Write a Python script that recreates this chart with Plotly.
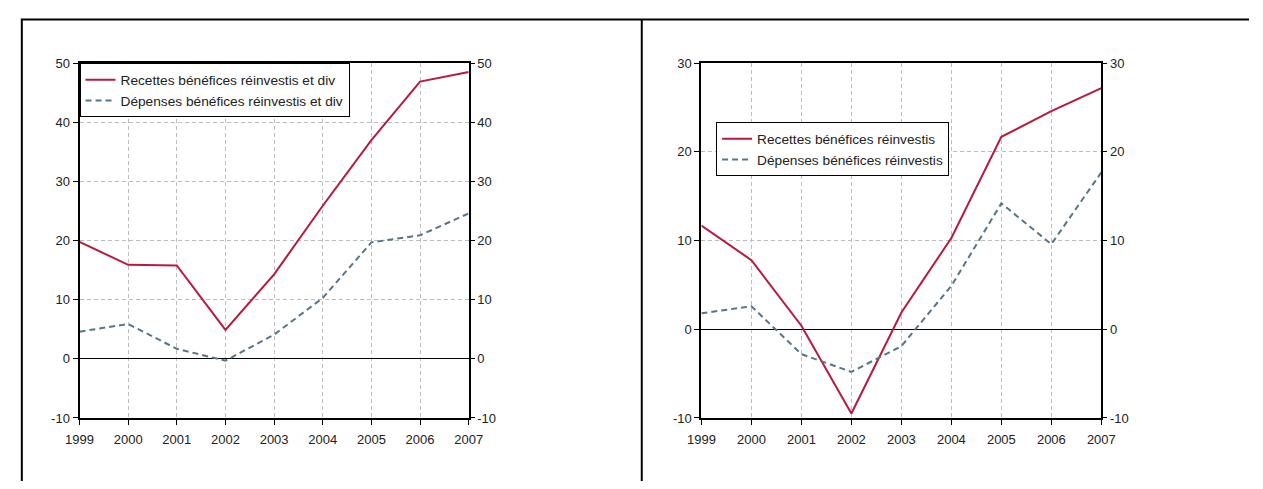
import plotly.graph_objects as go

years = [1999, 2000, 2001, 2002, 2003, 2004, 2005, 2006, 2007]

# Left panel: bénéfices réinvestis et dividendes
recettes_div = [19.8, 15.9, 15.8, 4.9, 14.3, 25.9, 37.0, 46.9, 48.5]
depenses_div = [4.6, 5.9, 1.7, -0.3, 4.1, 10.3, 19.7, 20.9, 24.6]

# Right panel: bénéfices réinvestis
recettes_rei = [11.7, 7.8, 0.4, -9.5, 1.9, 10.3, 21.7, 24.6, 27.2]
depenses_rei = [1.8, 2.6, -2.8, -4.8, -1.9, 4.9, 14.2, 9.6, 17.7]

names_left = ["Recettes bénéfices réinvestis et div", "Dépenses bénéfices réinvestis et div"]
names_right = ["Recettes bénéfices réinvestis", "Dépenses bénéfices réinvestis"]

yticks_left = [-10, 0, 10, 20, 30, 40, 50]
yticks_right = [-10, 0, 10, 20, 30]
yticktext_left = ["-10", "0", "10", "20", "30", "40", "50"]
yticktext_right = ["-10", "0", "10", "20", "30"]

RED = "#B8193C"
BLUE = "#587585"
FONT = "Liberation Sans, Arial, sans-serif"

W, H = 1263, 489
def fx(px):
    return px / W
def fy(py):
    return 1 - py / H

fig = go.Figure()

# left
fig.add_trace(go.Scatter(x=years, y=recettes_div, mode="lines", name=names_left[0],
                         line=dict(color=RED, width=2), xaxis="x", yaxis="y", legend="legend"))
fig.add_trace(go.Scatter(x=years, y=depenses_div, mode="lines", name=names_left[1],
                         line=dict(color=BLUE, width=2, dash="6px,4px"), xaxis="x", yaxis="y", legend="legend"))
fig.add_trace(go.Scatter(x=years, y=recettes_div, mode="lines", showlegend=False, hoverinfo="skip",
                         line=dict(width=0), opacity=0, xaxis="x", yaxis="y3"))
# right
fig.add_trace(go.Scatter(x=years, y=recettes_rei, mode="lines", name=names_right[0],
                         line=dict(color=RED, width=2), xaxis="x2", yaxis="y2", legend="legend2"))
fig.add_trace(go.Scatter(x=years, y=depenses_rei, mode="lines", name=names_right[1],
                         line=dict(color=BLUE, width=2, dash="6px,4px"), xaxis="x2", yaxis="y2", legend="legend2"))
fig.add_trace(go.Scatter(x=years, y=recettes_rei, mode="lines", showlegend=False, hoverinfo="skip",
                         line=dict(width=0), opacity=0, xaxis="x2", yaxis="y4"))

grid = dict(showgrid=True, gridcolor="#BDBDBD", griddash="4px,3px", gridwidth=1)
tickf = dict(family=FONT, size=13, color="#222222")
legf = dict(family=FONT, size=13.7, color="#222222")

xcommon = dict(range=[1999, 2007], tickmode="linear", tick0=1999, dtick=1, ticks="outside",
               ticklen=5, tickcolor="black", showline=True, linecolor="black", linewidth=2,
               mirror=True, tickfont=tickf, zeroline=False, ticklabelstandoff=3, **grid)

def ycommon(rng, tv, tt):
    return dict(range=rng, tickmode="array", tickvals=tv, ticktext=tt, ticks="outside",
                ticklen=5, tickcolor="black", tickfont=tickf)

fig.update_layout(
    autosize=True,
    margin=dict(l=0, r=0, t=0, b=0),
    paper_bgcolor="white", plot_bgcolor="white",
    font=dict(family=FONT, size=13, color="#222222"),
    xaxis=dict(domain=[fx(67), fx(465)], anchor="y", **xcommon),
    xaxis2=dict(domain=[fx(703), fx(1112)], anchor="y2", **xcommon),
    yaxis=dict(domain=[fy(424), fy(58)], anchor="x", showline=True, linecolor="black", linewidth=2,
               mirror=True, zeroline=True, zerolinecolor="black", zerolinewidth=1,
               **ycommon([-10, 50], yticks_left, yticktext_left), **grid),
    yaxis3=dict(overlaying="y", side="right", anchor="x", showgrid=False, zeroline=False,
                **ycommon([-10, 50], yticks_left, yticktext_left)),
    yaxis2=dict(domain=[fy(424), fy(58)], anchor="x2", showline=True, linecolor="black", linewidth=2,
                mirror=True, zeroline=True, zerolinecolor="black", zerolinewidth=1,
                **ycommon([-10, 30], yticks_right, yticktext_right), **grid),
    yaxis4=dict(overlaying="y2", side="right", anchor="x2", showgrid=False, zeroline=False,
                **ycommon([-10, 30], yticks_right, yticktext_right)),
    legend=dict(x=fx(67), y=fy(58), xanchor="left", yanchor="top", bgcolor="white",
                bordercolor="black", borderwidth=1, font=legf, tracegroupgap=0),
    legend2=dict(x=fx(718), y=fy(119), xanchor="left", yanchor="top", bgcolor="white",
                 bordercolor="black", borderwidth=1, font=legf, tracegroupgap=0),
    showlegend=True,
    shapes=[
        dict(type="line", xref="paper", yref="paper", x0=fx(7), x1=1, y0=fy(13), y1=fy(13),
             line=dict(color="black", width=2)),
        dict(type="line", xref="paper", yref="paper", x0=fx(8), x1=fx(8), y0=0, y1=fy(13),
             line=dict(color="black", width=2)),
        dict(type="line", xref="paper", yref="paper", x0=fx(642), x1=fx(642), y0=0, y1=fy(13),
             line=dict(color="black", width=2)),
    ],
)

post = (
    "document.documentElement.style.margin='0';"
    "document.documentElement.style.padding='0';"
    "document.documentElement.style.overflow='hidden';"
    "document.body.style.margin='0';"
    "document.body.style.padding='0';"
    "document.body.style.overflow='hidden';"
    "var gd=document.getElementsByClassName('plotly-graph-div')[0];"
    "gd.style.position='fixed';gd.style.left='0px';gd.style.top='0px';"
    "gd.style.width='100vw';gd.style.height='100vh';"
    "Plotly.Plots.resize(gd);"
)

fig.write_html("out.html", config={"displayModeBar": False, "responsive": True},
               default_width="100vw", default_height="100vh", post_script=post)
